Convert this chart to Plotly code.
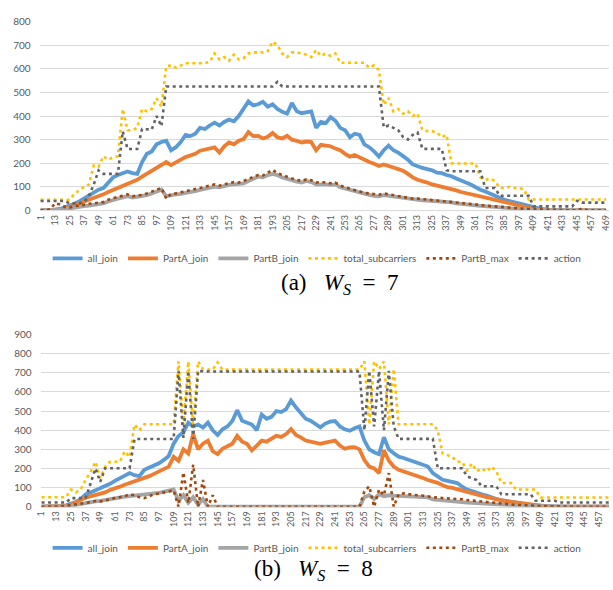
import plotly.graph_objects as go

# ---------------- data: chart (a) W_S = 7, sampled every 4 indices ----------------
a_index = list(range(1, 470, 4))
a_ticks = [1, 13, 25, 37, 49, 61, 73, 85, 97, 109, 121, 133, 145, 157, 169, 181, 193, 205,
           217, 229, 241, 253, 265, 277, 289, 301, 313, 325, 337, 349, 361, 373, 385, 397,
           409, 421, 433, 445, 457, 469]

a_all_join = [
    0, 0, 1, 3, 6, 12, 20, 28, 38, 50,
    62, 75, 88, 95, 115, 140, 150, 158, 165, 158,
    155, 205, 240, 250, 280, 290, 295, 255, 268, 290,
    320, 315, 325, 350, 345, 360, 372, 360, 375, 385,
    378, 400, 430, 462, 445, 450, 460, 440, 450, 430,
    418, 410, 455, 420, 412, 415, 420, 350, 375, 370,
    395, 380, 350, 340, 310, 325, 320, 280, 268, 250,
    228, 255, 275, 255, 245, 230, 215, 195, 186, 180,
    175, 170, 160, 158, 150, 145, 135, 125, 118, 110,
    98, 88, 80, 70, 62, 54, 45, 40, 35, 28,
    22, 16, 12, 8, 5, 3, 2, 1, 1, 0,
    0, 0, 0, 0, 0, 0, 0, 0]

a_partA_join = [
    0, 0, 1, 2, 4, 8, 14, 20, 28, 38,
    45, 52, 60, 68, 78, 87, 95, 105, 115, 120,
    130, 143, 155, 165, 177, 190, 205, 192, 205, 215,
    226, 232, 240, 253, 258, 262, 267, 245, 272, 288,
    280, 295, 302, 332, 315, 316, 305, 312, 328, 310,
    305, 316, 300, 295, 288, 292, 290, 255, 278, 275,
    272, 262, 255, 240, 228, 235, 225, 212, 205, 198,
    188, 195, 190, 182, 175, 168, 155, 140, 130, 125,
    118, 110, 105, 100, 96, 93, 85, 78, 74, 70,
    65, 60, 55, 50, 45, 40, 35, 28, 24, 20,
    15, 11, 8, 5, 3, 2, 1, 1, 0, 0,
    0, 0, 0, 0, 0, 0, 0, 0]

a_partB_join = [
    0, 0, 0, 1, 3, 6, 10, 13, 15, 18,
    20, 22, 25, 30, 38, 46, 50, 55, 60, 55,
    58, 60, 65, 72, 80, 88, 60, 65, 68, 70,
    73, 78, 82, 87, 92, 96, 101, 98, 105, 108,
    110, 112, 115, 125, 135, 143, 140, 150, 155, 150,
    140, 136, 128, 122, 118, 125, 120, 110, 112, 110,
    108, 110, 98, 92, 87, 80, 75, 68, 66, 62,
    60, 65, 62, 58, 55, 54, 50, 46, 45, 43,
    42, 41, 40, 38, 36, 34, 30, 27, 25, 23,
    21, 19, 17, 15, 13, 11, 10, 9, 8, 7,
    5, 4, 3, 2, 2, 1, 1, 0, 0, 0,
    0, 0, 0, 0, 0, 0, 0, 0]

a_total_subcarriers = [
    45, 45, 45, 45, 45, 45, 45, 70, 85, 100,
    110, 190, 185, 230, 215, 225, 230, 430, 340, 340,
    350, 430, 420, 430, 475, 440, 610, 615, 605, 615,
    624, 624, 624, 624, 624, 630, 665, 640, 650, 635,
    660, 640, 645, 665, 670, 670, 670, 675, 715, 700,
    665, 650, 670, 670, 665, 660, 650, 680, 655, 665,
    655, 665, 626, 626, 626, 626, 626, 626, 605, 615,
    595, 448, 477, 420, 430, 410, 420, 400, 410, 340,
    336, 336, 330, 310, 320, 200, 199, 199, 199, 199,
    199, 140, 129, 135, 125, 95, 95, 100, 95, 95,
    90, 46, 46, 46, 46, 46, 46, 46, 46, 46,
    46, 46, 46, 46, 46, 46, 46, 46]

a_partB_max = [
    0, 0, 5, 30, 25, 15, 12, 18, 20, 25,
    28, 30, 32, 35, 45, 52, 58, 62, 68, 60,
    62, 66, 72, 80, 88, 95, 50, 70, 72, 76,
    80, 84, 88, 95, 100, 104, 110, 105, 112, 116,
    120, 118, 125, 135, 142, 150, 148, 160, 172, 158,
    150, 142, 135, 130, 125, 132, 128, 118, 120, 118,
    115, 118, 105, 98, 92, 86, 80, 74, 72, 68,
    66, 72, 68, 64, 60, 58, 55, 50, 50, 48,
    47, 45, 44, 42, 40, 38, 34, 31, 29, 27,
    25, 22, 20, 18, 16, 14, 12, 11, 10, 9,
    7, 6, 5, 4, 3, 2, 1, 1, 0, 0,
    0, 0, 8, 2, 0, 0, 0, 0]

a_action = [
    40, 40, 40, 40, 40, 40, 30, 30, 30, 35,
    60, 110, 170, 155, 155, 155, 155, 335, 260, 260,
    260, 345, 343, 343, 400, 357, 525, 525, 525, 525,
    525, 525, 525, 525, 525, 525, 525, 525, 525, 525,
    525, 525, 525, 525, 525, 525, 525, 525, 525, 545,
    525, 525, 525, 525, 525, 525, 525, 525, 525, 525,
    525, 525, 525, 525, 525, 525, 525, 525, 525, 525,
    525, 352, 360, 350, 340, 311, 300, 320, 330, 261,
    261, 261, 261, 261, 170, 166, 166, 166, 166, 166,
    166, 166, 95, 95, 95, 62, 62, 62, 62, 62,
    62, 62, 17, 17, 17, 17, 17, 17, 17, 17,
    17, 41, 33, 33, 33, 33, 33, 33]

# ---------------- data: chart (b) W_S = 8 ----------------
b_index = list(range(1, 466, 4))
b_ticks = [1, 13, 25, 37, 49, 61, 73, 85, 97, 109, 121, 133, 145, 157, 169, 181, 193, 205,
           217, 229, 241, 253, 265, 277, 289, 301, 313, 325, 337, 349, 361, 373, 385, 397,
           409, 421, 433, 445, 457]

b_all_join = [
    0, 0, 0, 1, 3, 7, 14, 25, 40, 65,
    75, 85, 99, 110, 120, 135, 150, 160, 176, 165,
    160, 193, 205, 215, 227, 245, 265, 330, 370, 390,
    440, 420, 430, 414, 440, 400, 375, 405, 420, 448,
    505, 450, 440, 430, 400, 482, 460, 470, 500, 495,
    510, 555, 520, 490, 460, 450, 430, 415, 435, 445,
    448, 420, 405, 397, 410, 420, 346, 300, 285, 275,
    363, 300, 280, 262, 255, 245, 240, 228, 218, 210,
    176, 160, 141, 135, 128, 124, 105, 90, 82, 72,
    65, 58, 48, 40, 35, 30, 25, 22, 16, 12,
    9, 6, 4, 2, 1, 0, 0, 0, 0, 0,
    0, 0, 0, 0, 0, 0, 0]

b_partA_join = [
    0, 0, 0, 1, 2, 4, 9, 20, 35, 48,
    55, 60, 65, 75, 88, 99, 105, 115, 124, 130,
    140, 150, 160, 172, 184, 195, 210, 261, 240, 300,
    278, 380, 300, 330, 345, 290, 275, 303, 315, 329,
    371, 340, 329, 295, 320, 346, 340, 355, 371, 365,
    380, 406, 375, 363, 346, 340, 332, 329, 335, 340,
    346, 320, 303, 310, 312, 300, 244, 210, 200, 176,
    295, 240, 210, 193, 185, 178, 165, 159, 150, 140,
    133, 125, 112, 102, 99, 92, 80, 73, 68, 62,
    56, 50, 45, 38, 33, 28, 25, 22, 16, 12,
    9, 6, 4, 2, 1, 0, 0, 0, 0, 0,
    0, 0, 0, 0, 0, 0, 0]

b_partB_join = [
    0, 0, 0, 0, 1, 3, 5, 10, 15, 22,
    25, 28, 31, 36, 42, 48, 50, 53, 56, 58,
    60, 65, 67, 70, 73, 78, 82, 90, 30, 60,
    20, 50, 10, 40, 0, 0, 0, 0, 0, 0,
    0, 0, 0, 0, 0, 0, 0, 0, 0, 0,
    0, 0, 0, 0, 0, 0, 0, 0, 0, 0,
    0, 0, 0, 0, 0, 0, 50, 60, 40, 65,
    55, 60, 58, 56, 55, 54, 53, 52, 50, 49,
    39, 36, 33, 30, 28, 26, 24, 22, 20, 18,
    17, 16, 15, 14, 13, 11, 9, 7, 6, 5,
    5, 4, 3, 2, 1, 0, 0, 0, 0, 0,
    0, 0, 0, 0, 0, 0, 0]

b_total_subcarriers = [
    50, 50, 50, 50, 50, 50, 90, 75, 90, 141,
    180, 235, 150, 210, 235, 235, 235, 290, 260, 430,
    400, 431, 431, 431, 431, 431, 431, 431, 760, 430,
    760, 420, 760, 720, 717, 717, 755, 717, 717, 717,
    717, 717, 717, 717, 717, 717, 717, 717, 717, 717,
    717, 717, 717, 717, 717, 717, 717, 717, 717, 717,
    717, 717, 717, 717, 717, 717, 760, 430, 760, 720,
    760, 430, 720, 431, 431, 431, 431, 431, 431, 431,
    431, 400, 278, 270, 260, 235, 235, 190, 226, 185,
    200, 184, 210, 184, 124, 124, 124, 90, 90, 90,
    90, 90, 48, 48, 48, 48, 48, 48, 48, 48,
    48, 48, 48, 48, 48, 48, 48]

b_partB_max = [
    0, 0, 0, 0, 2, 5, 8, 12, 18, 20,
    25, 30, 28, 32, 40, 45, 48, 55, 65, 60,
    50, 45, 55, 65, 70, 75, 80, 85, 0, 180,
    20, 220, 0, 140, 0, 60, 0, 0, 0, 0,
    0, 0, 0, 0, 0, 0, 0, 0, 0, 0,
    0, 0, 0, 0, 0, 0, 0, 0, 0, 0,
    0, 0, 0, 0, 0, 0, 80, 107, 0, 90,
    60, 176, 0, 65, 70, 65, 62, 60, 58, 55,
    48, 50, 45, 44, 42, 40, 39, 35, 32, 30,
    28, 25, 22, 20, 18, 15, 12, 10, 8, 7,
    6, 5, 4, 3, 2, 1, 0, 0, 0, 0,
    0, 0, 0, 0, 0, 0, 0]

b_action = [
    22, 22, 22, 22, 22, 22, 45, 45, 45, 45,
    120, 200, 130, 201, 201, 201, 201, 201, 201, 354,
    354, 354, 354, 354, 354, 354, 354, 354, 710, 360,
    710, 355, 710, 707, 707, 707, 707, 707, 707, 707,
    707, 707, 707, 707, 707, 707, 707, 707, 707, 707,
    707, 707, 707, 707, 707, 707, 707, 707, 707, 707,
    707, 707, 707, 707, 707, 707, 400, 710, 420, 710,
    400, 710, 420, 355, 355, 355, 355, 355, 355, 355,
    355, 201, 201, 201, 201, 201, 201, 159, 150, 140,
    107, 107, 107, 107, 65, 65, 65, 65, 65, 65,
    65, 31, 31, 31, 31, 31, 22, 22, 22, 22,
    22, 22, 22, 22, 22, 22, 22]

series_names = ["all_join", "PartA_join", "PartB_join", "total_subcarriers", "PartB_max", "action"]

# ---------------- styling ----------------
W, H = 613, 590
TXT = "#595959"
GRID = "#D9D9D9"
FONT = "Lato, Open Sans, sans-serif"
styles = [
    dict(color="#5B9BD5", width=3.8),
    dict(color="#ED7D31", width=3.8),
    dict(color="#A5A5A5", width=3.8),
    dict(color="#FFC000", width=2.6, dash="3px,3.5px"),
    dict(color="#9E480E", width=2.6, dash="3px,3.5px"),
    dict(color="#636363", width=2.6, dash="3px,3.5px"),
]

fig = go.Figure()

a_series = [a_all_join, a_partA_join, a_partB_join, a_total_subcarriers, a_partB_max, a_action]
b_series = [b_all_join, b_partA_join, b_partB_join, b_total_subcarriers, b_partB_max, b_action]

for name, vals, st in zip(series_names, a_series, styles):
    n = min(len(vals), len(a_index))
    fig.add_trace(go.Scatter(x=a_index[:n], y=vals[:n], mode="lines", name=name,
                             line=st, xaxis="x", yaxis="y", legend="legend",
                             hoverinfo="skip"))
for name, vals, st in zip(series_names, b_series, styles):
    n = min(len(vals), len(b_index))
    fig.add_trace(go.Scatter(x=b_index[:n], y=vals[:n], mode="lines", name=name,
                             line=st, xaxis="x2", yaxis="y2", legend="legend2",
                             hoverinfo="skip"))


def px_x(p):
    return p / W


def px_y(p):
    return 1 - p / H


xa_common = dict(tickangle=-90, tickfont=dict(size=9, color=TXT, family=FONT),
                 showgrid=False, showline=True, linecolor=GRID, linewidth=1,
                 ticks="", zeroline=False, fixedrange=True, ticklabeloverflow="allow")
ya_common = dict(tickfont=dict(size=10, color=TXT, family=FONT), showgrid=True,
                 gridcolor=GRID, gridwidth=1, zeroline=False, showline=False,
                 ticks="", ticklabelstandoff=8, fixedrange=True)

cap_font = dict(size=23, color="black", family="Liberation Serif, serif")

fig.update_layout(
    width=W, height=H,
    margin=dict(l=0, r=0, t=0, b=0),
    paper_bgcolor="white", plot_bgcolor="white",
    showlegend=True,
    xaxis=dict(domain=[px_x(35), px_x(611)], range=[0.18, 471.45],
               tickvals=a_ticks, ticktext=[str(t) for t in a_ticks], anchor="y", **xa_common),
    yaxis=dict(domain=[px_y(208), px_y(15)], range=[0, 800], dtick=100, anchor="x", **ya_common),
    xaxis2=dict(domain=[px_x(36), px_x(612)], range=[0.19, 465.9],
                tickvals=b_ticks, ticktext=[str(t) for t in b_ticks], anchor="y2", **xa_common),
    yaxis2=dict(domain=[px_y(511), px_y(335)], range=[0, 900], dtick=100, anchor="x2", **ya_common),
    legend=dict(orientation="h", x=0.515, xanchor="center", y=px_y(257), yanchor="middle",
                font=dict(size=10, color=TXT, family=FONT), itemwidth=30,
                bgcolor="rgba(0,0,0,0)", tracegroupgap=0),
    legend2=dict(orientation="h", x=0.515, xanchor="center", y=px_y(553), yanchor="middle",
                 font=dict(size=10, color=TXT, family=FONT), itemwidth=30,
                 bgcolor="rgba(0,0,0,0)", tracegroupgap=0),
    annotations=[
        dict(text="(a)&nbsp;&nbsp;&nbsp;<i>W</i><sub><i>S</i></sub>&nbsp;&nbsp;=&nbsp;&nbsp;7",
             x=px_x(338), y=px_y(283),
             xref="paper", yref="paper", showarrow=False, xanchor="center", yanchor="middle",
             font=cap_font),
        dict(text="(b)&nbsp;&nbsp;&nbsp;<i>W</i><sub><i>S</i></sub>&nbsp;&nbsp;=&nbsp;&nbsp;8",
             x=px_x(312), y=px_y(576),
             xref="paper", yref="paper", showarrow=False, xanchor="center", yanchor="middle",
             font=cap_font),
    ],
)

fig.write_html("out.html", config={"displayModeBar": False},
               post_script="document.body.style.margin='0px';document.body.style.overflow='hidden';")
